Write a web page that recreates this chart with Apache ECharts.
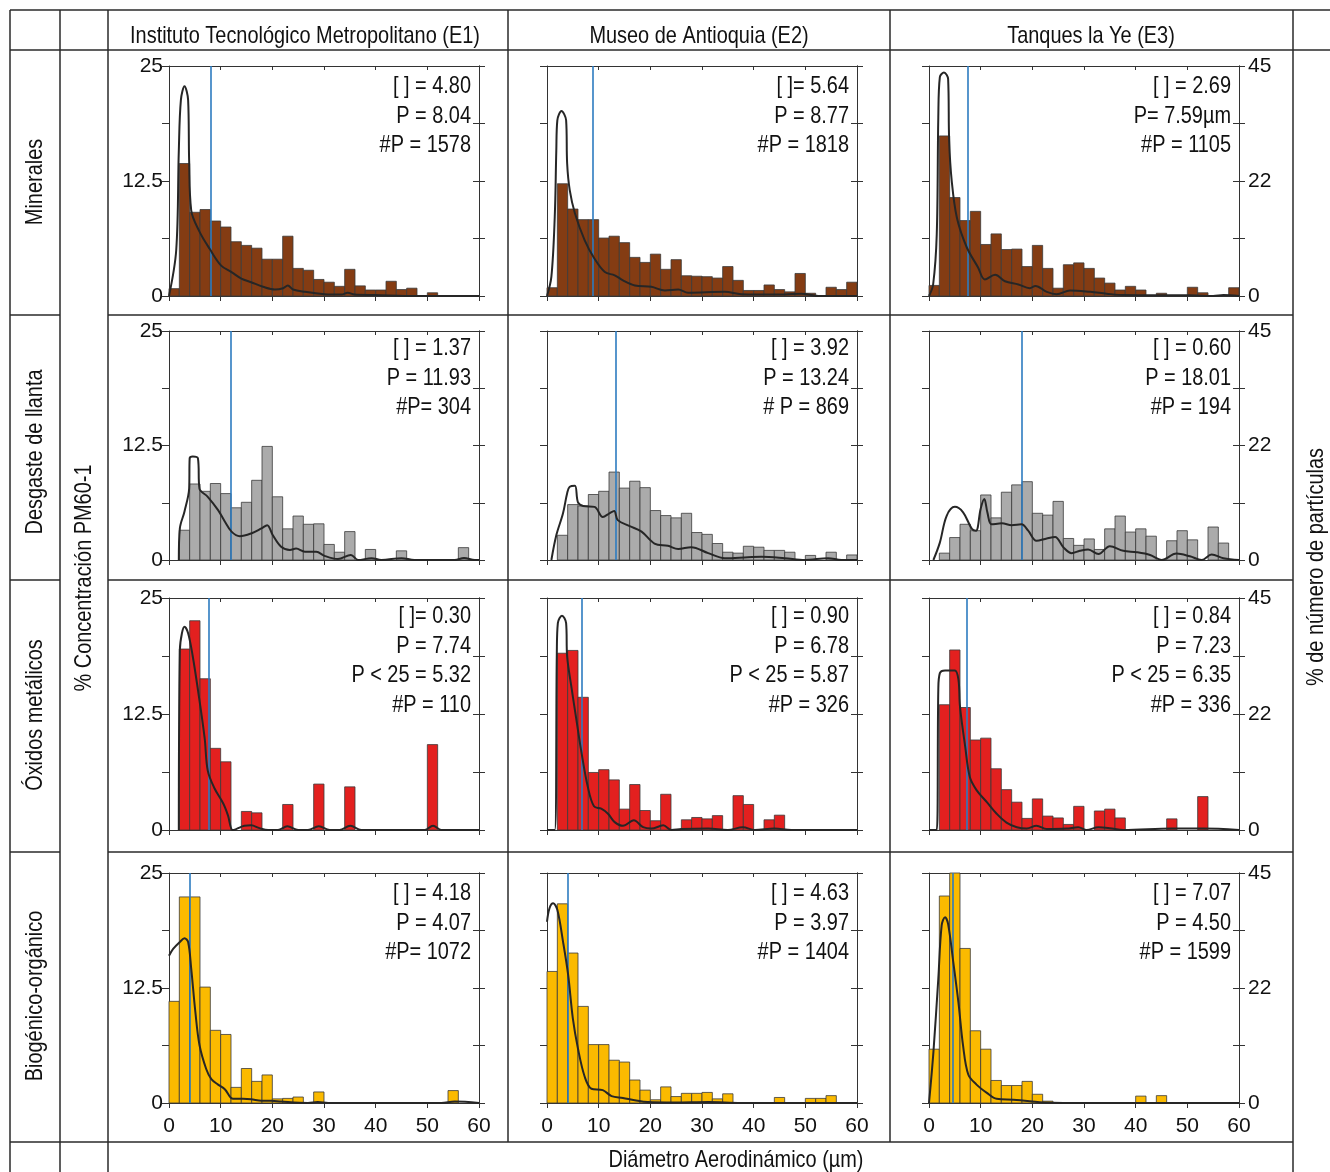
<!DOCTYPE html>
<html>
<head>
<meta charset="utf-8">
<script src="https://cdn.jsdelivr.net/npm/echarts@6/dist/echarts.min.js"></script>
<style>
  html, body { margin: 0; padding: 0; background: #fff; }
  #chart { width: 1330px; height: 1172px; }
</style>
</head>
<body>
<div id="chart"></div>
<script>
// ---- Data -------------------------------------------------------------
const sites = ['Instituto Tecnológico Metropolitano (E1)', 'Museo de Antioquia (E2)', 'Tanques la Ye (E3)'];
const groups = ['Minerales', 'Desgaste de llanta', 'Óxidos metálicos', 'Biogénico-orgánico'];

// 2 µm bins of aerodynamic diameter
const binEdges = [0, 2, 4, 6, 8, 10, 12, 14, 16, 18, 20, 22, 24, 26, 28, 30, 32, 34, 36, 38, 40, 42, 44, 46, 48, 50, 52, 54, 56, 58, 60];

const xTicks = [0, 10, 20, 30, 40, 50, 60];
const leftTickValues = [0, 12.5, 25];
const leftTickLabels = ['0', '12.5', '25'];
const rightTickValues = [0, 22.5, 45];
const rightTickLabels = ['0', '22', '45'];

// Histogram heights (%), one value per bin
const minE1 = [0.8, 14.4, 9.1, 9.4, 8.15, 7.5, 5.9, 5.5, 5.2, 4.0, 4.0, 6.5, 3.0, 2.8, 1.8, 1.5, 1.05, 2.9, 1.1, 0.65, 0.65, 1.6, 0.7, 0.85, 0, 0.35, 0, 0, 0, 0];
const minE2 = [0.9, 12.2, 9.45, 8.3, 8.3, 6.3, 6.5, 5.8, 4.2, 3.65, 4.55, 2.9, 3.95, 2.2, 2.15, 2.1, 1.95, 3.2, 1.7, 0.6, 0.6, 1.2, 0.7, 0.45, 2.45, 0.3, 0, 0.95, 0.7, 1.5];
const minE3 = [1.15, 17.4, 10.7, 8.2, 9.2, 5.6, 6.75, 5.05, 5.1, 3.2, 5.5, 3.0, 0.85, 3.4, 3.6, 3.0, 1.95, 1.4, 0.65, 1.05, 0.65, 0, 0.3, 0, 0, 0.95, 0.35, 0, 0, 0.9];

const desE1 = [0, 3.25, 8.3, 7.5, 8.35, 7.25, 5.7, 6.3, 8.7, 12.4, 6.9, 3.4, 4.8, 3.9, 3.95, 1.7, 0.85, 3.1, 0, 1.15, 0, 0, 1.0, 0, 0, 0, 0, 0, 1.35, 0];
const desE2 = [0, 2.7, 6.05, 5.9, 7.15, 7.5, 9.6, 7.85, 8.6, 7.9, 5.4, 4.85, 4.6, 5.1, 3.0, 2.8, 1.8, 0.85, 0.75, 1.5, 1.4, 1.05, 1.05, 0.85, 0, 0.5, 0, 0.85, 0, 0.55];
const desE3 = [0, 0.75, 2.45, 3.9, 3.2, 7.1, 4.6, 7.4, 8.2, 8.55, 5.1, 4.9, 6.4, 2.35, 1.6, 2.3, 1.15, 3.4, 4.8, 3.05, 3.4, 2.6, 0, 2.1, 3.2, 2.2, 0, 3.6, 1.85, 0];

const oxiE1 = [0, 19.5, 22.55, 16.3, 8.8, 7.35, 0, 2.0, 1.85, 0, 0, 2.75, 0, 0, 4.95, 0, 0, 4.65, 0, 0, 0, 0, 0, 0, 0, 9.2, 0, 0, 0, 0];
const oxiE2 = [0, 19.05, 19.35, 14.3, 6.2, 6.5, 5.4, 2.25, 4.9, 2.1, 1.0, 3.85, 0, 1.1, 1.35, 1.2, 1.55, 0, 3.7, 2.75, 0, 1.1, 1.6, 0, 0, 0, 0, 0, 0, 0];
const oxiE3 = [0, 13.5, 19.4, 13.2, 9.7, 9.9, 6.6, 4.35, 3.0, 1.25, 3.35, 1.5, 1.3, 0.6, 2.55, 0, 2.05, 2.25, 1.3, 0, 0, 0, 0, 1.2, 0, 0, 3.6, 0, 0, 0];

const bioE1 = [11.05, 22.4, 22.4, 12.6, 7.9, 7.45, 1.7, 3.75, 2.35, 3.05, 0.45, 0.5, 0.65, 0, 1.2, 0, 0, 0, 0, 0, 0, 0, 0, 0, 0, 0, 0, 1.35, 0, 0];
const bioE2 = [14.3, 21.65, 16.3, 10.5, 6.35, 6.35, 4.65, 4.45, 2.5, 1.4, 0.35, 1.75, 0.7, 1.05, 1.05, 1.15, 0.45, 1.0, 0, 0, 0, 0, 0.6, 0, 0, 0.5, 0.5, 0.8, 0, 0];
const bioE3 = [5.85, 22.5, 25, 16.8, 7.85, 5.85, 2.45, 1.9, 1.9, 2.35, 0.95, 0.2, 0, 0, 0, 0, 0, 0, 0, 0, 0.75, 0, 0.8, 0, 0, 0, 0, 0, 0, 0];

// Smoothed distribution curves: [diameter µm, %]
const curveMinE1 = [[0,0],[1.4,5.0],[1.9,15.8],[2.3,21.3],[3.0,22.8],[3.7,21.3],[3.9,14.7],[4.3,9.3],[5.9,7.0],[7.9,5.1],[10.1,3.3],[12.1,2.6],[14.0,1.9],[15.9,1.5],[18.2,1.0],[20.5,0.7],[22.1,0.85],[23.0,1.15],[24.0,0.7],[26.3,0.45],[30.1,0.2],[33.4,0.15],[34.6,0.35],[35.9,0.15],[39.8,0.1],[48.2,0],[60,0]];
const curveMinE2 = [[0,0],[0.85,2.1],[1.5,8.6],[1.8,15.8],[2.0,19.1],[2.8,20.1],[3.7,19.1],[3.9,14.4],[4.4,11.5],[5.4,9.0],[7.3,6.05],[9.2,4.05],[11.2,2.6],[13.1,2.25],[14.7,1.7],[17.0,1.15],[20.2,1.0],[22.8,0.6],[25.4,0.7],[27.3,0.35],[34.4,0.45],[37.6,0.2],[44.1,0.15],[49.2,0.25],[52.5,0],[60,0]];
const curveMinE3 = [[0,0],[0.8,1.25],[1.5,6.7],[1.8,19.4],[2.1,23.8],[2.9,24.3],[3.7,23.6],[3.9,16.9],[4.4,12.5],[5.4,8.5],[7.3,5.3],[9.5,3.1],[10.8,1.8],[12.8,2.3],[14.7,1.6],[17.3,1.25],[19.5,0.85],[20.6,1.1],[22.8,0.45],[24.7,0.2],[27.3,0.6],[31.2,0.45],[34.4,0.25],[37.6,0.1],[44.1,0.07],[50.5,0.07],[55,0],[57,0.1],[60,0]];

const curveDesE1 = [[1.9,0],[2.1,3.45],[3.0,5.3],[3.9,7.8],[4.0,11.1],[4.6,11.3],[5.6,11.1],[5.9,7.8],[7.5,6.9],[9.5,5.45],[10.8,4.2],[12.1,3.1],[13.7,2.6],[15.9,2.9],[17.9,3.45],[19.0,3.8],[20.1,2.7],[21.7,1.45],[23.4,1.1],[24.6,1.25],[26.3,0.9],[28.5,0.9],[30.1,0.45],[32.7,0.1],[35.2,0.55],[36.6,0],[39.2,0.2],[41.1,0],[45,0.2],[47.5,0],[55.3,0],[57.1,0.22],[59.2,0],[60,0]];
const curveDesE2 = [[0.85,0],[1.8,2.7],[3.1,5.1],[3.9,7.3],[4.4,8.0],[5.4,8.1],[6.0,6.3],[7.0,5.9],[9.2,5.8],[10.8,4.7],[12.1,5.1],[13.0,5.35],[13.7,4.35],[16.0,3.7],[18.3,3.1],[20.8,1.8],[23.4,1.55],[25.4,1.2],[27.9,1.4],[31.2,0.75],[34.4,0.2],[38.9,0.3],[41.5,0.35],[46,0.2],[49.9,0],[54.4,0.2],[57,0],[60,0]];
const curveDesE3 = [[0.85,0],[2.1,1.9],[3.4,4.8],[5.0,5.8],[6.6,5.2],[8.3,3.4],[9.1,3.2],[10.0,5.6],[10.7,6.65],[11.3,5.2],[12.1,3.9],[14.1,4.0],[16,3.8],[17.9,3.9],[19.2,3.2],[20.8,2.1],[22.8,2.35],[24.4,2.5],[26,1.4],[27.6,0.75],[29.2,1.0],[30.8,1.15],[32.8,0.65],[35,1.5],[37.6,1.0],[40.2,0.85],[42.8,0.55],[45,0],[47.9,0.7],[50.5,0.4],[52.8,0],[54.7,0.6],[57,0.2],[60,0]];

const curveOxiE1 = [[1.9,0],[2.1,19.4],[2.5,21.2],[3.0,21.9],[3.7,21.2],[4.6,18.7],[5.6,15.1],[6.9,9.9],[7.5,6.4],[8.8,4.5],[10.5,2.85],[11.4,1.6],[12.3,0],[13.0,0.1],[14.6,0.45],[15.9,0.5],[17.5,0.2],[19.2,0],[21.1,0],[22.9,0.4],[25,0],[26.9,0],[29,0.4],[31.1,0],[33,0],[35.1,0.45],[37.2,0],[49.5,0],[51.1,0.45],[52.7,0],[60,0]];
const curveOxiE2 = [[0,0],[1.5,0],[1.9,19.05],[2.1,22.3],[2.9,23.1],[3.7,22.3],[3.9,18.7],[4.7,15.5],[5.7,11.85],[6.6,8.6],[7.9,4.65],[9.1,2.55],[10.5,2.3],[11.8,1.75],[13.1,0.85],[14.7,0.45],[16.8,1.05],[18.6,0.3],[20.2,0.15],[22.5,0.5],[24.1,0],[26,0.1],[31.2,0.15],[35,0],[37.9,0.3],[40.2,0],[44,0.15],[47.3,0],[60,0]];
const curveOxiE3 = [[0,0],[1.5,0],[1.8,15.1],[2.1,16.9],[3.1,17.2],[5.0,17.2],[5.7,16.2],[6.0,13.3],[7.0,9.0],[7.9,5.7],[9.2,4.3],[11.2,3.0],[13.1,1.75],[15.0,0.8],[17.0,0.3],[18.9,0.15],[20.8,0.45],[22.8,0.1],[26.6,0.15],[28.9,0.3],[30.5,0],[32.8,0.3],[35,0.2],[37.6,0],[47,0.15],[53.1,0.15],[60,0]];

const curveBioE1 = [[0,16.0],[0.8,16.75],[2.1,17.5],[3.0,17.9],[3.7,17.5],[4.3,14.6],[5.1,9.9],[5.9,6.3],[7.2,3.7],[8.2,2.6],[9.5,2.0],[10.8,1.5],[12.4,0.45],[14.3,0.45],[15.9,0.4],[17.9,0.25],[19.8,0.25],[21.7,0.15],[26.9,0],[28.8,0.1],[30.8,0],[52.7,0],[55.3,0.15],[60,0]];
const curveBioE2 = [[0,19.7],[0.5,21.2],[1.2,21.7],[2.0,21.0],[3.1,17.55],[4.1,13.9],[5.0,9.2],[6.0,5.9],[7.3,2.85],[8.6,1.55],[10.8,1.4],[12.5,0.75],[14.7,0.55],[17.0,0.3],[19.5,0.1],[24.7,0.05],[31.2,0.1],[37.6,0],[60,0]];
const curveBioE3 = [[0,0],[0.85,5.5],[1.8,13.5],[2.45,19.3],[3.1,20.2],[3.7,19.45],[4.7,15.3],[5.7,10.9],[6.6,6.2],[7.6,3.1],[9.2,2.0],[11.2,1.1],[13.1,0.45],[16.3,0.35],[19.5,0.2],[22.1,0.05],[26,0],[60,0]];

// P values (µm), drawn as vertical reference lines
const pMin = [8.04, 8.77, 7.59];
const pDes = [11.93, 13.24, 18.01];
const pOxi = [7.74, 6.78, 7.23];
const pBio = [4.07, 3.97, 4.50];

// Panel annotations
const notesMin = [['[ ] = 4.80', 'P = 8.04', '#P = 1578'], ['[ ]= 5.64', 'P = 8.77', '#P = 1818'], ['[ ] = 2.69', 'P= 7.59µm', '#P = 1105']];
const notesDes = [['[ ] = 1.37', 'P = 11.93', '#P= 304'], ['[ ] = 3.92', 'P = 13.24', '# P = 869'], ['[ ] = 0.60', 'P = 18.01', '#P = 194']];
const notesOxi = [['[ ]= 0.30', 'P = 7.74', 'P < 25 = 5.32', '#P = 110'], ['[ ] = 0.90', 'P = 6.78', 'P < 25 = 5.87', '#P = 326'], ['[ ] = 0.84', 'P = 7.23', 'P < 25 = 6.35', '#P = 336']];
const notesBio = [['[ ] = 4.18', 'P = 4.07', '#P= 1072'], ['[ ] = 4.63', 'P = 3.97', '#P = 1404'], ['[ ] = 7.07', 'P = 4.50', '#P = 1599']];

const leftTitle = '% Concentración PM60-1';
const rightTitle = '% de número de partículas';
const bottomTitle = 'Diámetro Aerodinámico (µm)';

// ---- Layout & style ---------------------------------------------------
const FONT = '"Liberation Sans Narrow", "Arial Narrow", "Liberation Sans", Arial, sans-serif';
const FS = 24;          // graphic text size (horizontally condensed below)
const SQUEEZE = 0.83;   // condensed look for the free text
const AXFS = 21;        // tick label size
const TXT = '#111';
const AX = '#333';
const colLeft = [169, 547, 929];
const plotW = 310;
const rowTop = [66, 331, 598, 873];
const rowH = [230, 229, 232, 230];
const noteDy = [6, 3, 4, 6];
const barColors = ['#843C13', '#ABABAB', '#E3201F', '#FBBA00'];

const bars = [[minE1, minE2, minE3], [desE1, desE2, desE3], [oxiE1, oxiE2, oxiE3], [bioE1, bioE2, bioE3]];
const curves = [[curveMinE1, curveMinE2, curveMinE3], [curveDesE1, curveDesE2, curveDesE3], [curveOxiE1, curveOxiE2, curveOxiE3], [curveBioE1, curveBioE2, curveBioE3]];
const pVals = [pMin, pDes, pOxi, pBio];
const notes = [notesMin, notesDes, notesOxi, notesBio];

function tickLabel(values, labels) {
  return v => {
    const k = values.findIndex(t => Math.abs(t - v) < 1e-6);
    return k >= 0 ? labels[k] : '';
  };
}

function textEl(x, y, text, opts) {
  opts = opts || {};
  return {
    type: 'text', x, y, z: 10,
    rotation: opts.rotation || 0,
    scaleX: SQUEEZE,
    style: {
      text, fill: TXT, fontSize: FS, fontFamily: FONT,
      lineHeight: opts.lineHeight || FS * 1.2,
      textAlign: opts.align || 'center', align: opts.align || 'center',
      textVerticalAlign: opts.valign || 'middle', verticalAlign: opts.valign || 'middle'
    }
  };
}

const grids = [], xAxes = [], yAxes = [], series = [], graphics = [];
const axisLine = { show: true, onZero: false, lineStyle: { color: AX, width: 1 } };
const labelStyle = { color: TXT, fontSize: AXFS, fontFamily: FONT };

for (let r = 0; r < 4; r++) {
  for (let c = 0; c < 3; c++) {
    const i = r * 3 + c;
    grids.push({ left: colLeft[c], top: rowTop[r], width: plotW, height: rowH[r] });

    xAxes.push({
      gridIndex: i, type: 'value', min: 0, max: 60, interval: 10, position: 'bottom',
      axisLine, splitLine: { show: false },
      axisTick: { show: true, inside: false, length: 5, lineStyle: { color: AX } },
      axisLabel: Object.assign({ show: r === 3, margin: 13, formatter: tickLabel(xTicks, xTicks.map(String)) }, labelStyle)
    });
    xAxes.push({
      gridIndex: i, type: 'value', min: 0, max: 60, interval: 10, position: 'top',
      axisLine, splitLine: { show: false },
      axisTick: { show: true, inside: true, length: 4, lineStyle: { color: AX } },
      axisLabel: { show: false }
    });

    yAxes.push({
      gridIndex: i, type: 'value', min: 0, max: 25, interval: 6.25, position: 'left',
      axisLine, splitLine: { show: false },
      axisTick: { show: true, inside: false, length: 7, lineStyle: { color: AX } },
      axisLabel: Object.assign({ show: c === 0, margin: 6, formatter: tickLabel(leftTickValues, leftTickLabels) }, labelStyle)
    });
    yAxes.push({
      gridIndex: i, type: 'value', min: 0, max: 45, interval: 11.25, position: 'right',
      axisLine, splitLine: { show: false },
      axisTick: { show: true, inside: true, length: 6, lineStyle: { color: AX } },
      axisLabel: { show: false }
    });
    yAxes.push({
      gridIndex: i, type: 'value', min: 0, max: 45, interval: 11.25, position: 'right',
      axisLine, splitLine: { show: false },
      axisTick: { show: true, inside: false, length: 6, lineStyle: { color: AX } },
      axisLabel: Object.assign({ show: c === 2, margin: 9, formatter: tickLabel(rightTickValues, rightTickLabels) }, labelStyle)
    });

    const vals = bars[r][c];
    const fill = barColors[r];
    series.push({
      type: 'custom',
      xAxisIndex: 2 * i, yAxisIndex: 3 * i,
      data: vals.map((v, k) => [binEdges[k], binEdges[k + 1], v]),
      encode: { x: [0, 1], y: 2 },
      silent: true, z: 2,
      renderItem: (params, api) => {
        const h = api.value(2);
        if (!h) return null;
        const p0 = api.coord([api.value(0), 0]);
        const p1 = api.coord([api.value(1), h]);
        return {
          type: 'rect',
          shape: { x: p0[0], y: p1[1], width: p1[0] - p0[0], height: p0[1] - p1[1] },
          style: { fill, stroke: '#3a3a3a', lineWidth: 0.8 }
        };
      }
    });

    series.push({
      type: 'line',
      xAxisIndex: 2 * i, yAxisIndex: 3 * i,
      data: curves[r][c],
      smooth: 0.35, showSymbol: false, silent: true, z: 4,
      lineStyle: { color: '#262626', width: 2 },
      markLine: {
        silent: true, symbol: ['none', 'none'], label: { show: false }, z: 3,
        lineStyle: { color: '#2C7BC0', width: 1.6, type: 'solid' },
        data: [{ xAxis: pVals[r][c] }]
      }
    });

    graphics.push(textEl(colLeft[c] + plotW - 8, rowTop[r] + noteDy[r], notes[r][c].join('\n'),
      { align: 'right', valign: 'top', lineHeight: 29.5 }));
  }
}

// Table frame
const ln = (x1, y1, x2, y2) => ({ type: 'line', z: 1, shape: { x1, y1, x2, y2 }, style: { stroke: '#2a2a2a', lineWidth: 1.5 } });
graphics.push(
  ln(10, 10, 1330, 10), ln(10, 50, 1330, 50),
  ln(10, 315, 60, 315), ln(108, 315, 1293, 315),
  ln(10, 580, 60, 580), ln(108, 580, 1293, 580),
  ln(10, 852, 60, 852), ln(108, 852, 1293, 852),
  ln(10, 1142, 1293, 1142),
  ln(10, 10, 10, 1172), ln(60, 10, 60, 1172), ln(108, 10, 108, 1172),
  ln(508, 10, 508, 1142), ln(890, 10, 890, 1142), ln(1293, 10, 1293, 1172)
);

// Column headers
const headerX = [305, 699, 1091];
sites.forEach((s, c) => graphics.push(textEl(headerX[c], 36, s)));

// Row labels (vertical)
const rowMid = [182, 452, 715, 996];
groups.forEach((g, r) => graphics.push(textEl(35, rowMid[r], g, { rotation: Math.PI / 2 })));

// Axis titles
graphics.push(
  textEl(84, 578, leftTitle, { rotation: Math.PI / 2 }),
  textEl(1316, 567, rightTitle, { rotation: Math.PI / 2 }),
  textEl(736, 1160, bottomTitle)
);

const chart = echarts.init(document.getElementById('chart'), null, { renderer: 'canvas' });
chart.setOption({
  animation: false,
  backgroundColor: '#fff',
  grid: grids,
  xAxis: xAxes,
  yAxis: yAxes,
  series,
  graphic: graphics
});
</script>
</body>
</html>
